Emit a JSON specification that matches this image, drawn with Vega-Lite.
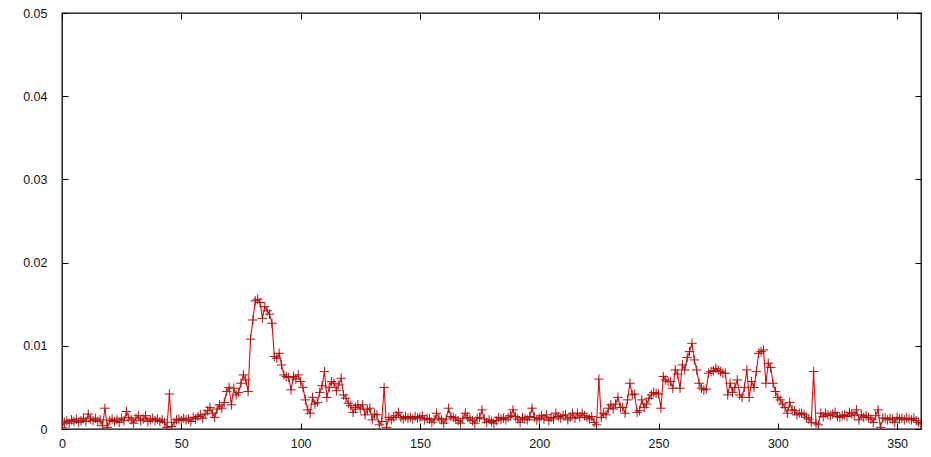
{
  "$schema": "https://vega.github.io/schema/vega-lite/v6.json",
  "width": 859,
  "height": 416,
  "autosize": {"type": "none"},
  "padding": {"left": 62, "top": 13, "right": 10, "bottom": 28},
  "background": "#ffffff",
  "config": {
    "view": {"stroke": "#000000", "strokeWidth": 1.3},
    "axis": {"labelFont": "Liberation Sans", "labelFontSize": 12.5, "labelColor": "#111111", "domain": false, "grid": false, "tickColor": "#000000", "tickSize": -6, "tickWidth": 1}
  },
  "data": {"values": [
{"x":0,"v":0.0002},{"x":1,"v":0.0008},{"x":2,"v":0.0010},{"x":3,"v":0.0007},{"x":4,"v":0.0011},{"x":5,"v":0.0009},{"x":6,"v":0.0012},{"x":7,"v":0.0008},{"x":8,"v":0.0010},{"x":9,"v":0.0013},
{"x":10,"v":0.0009},{"x":11,"v":0.0018},{"x":12,"v":0.0012},{"x":13,"v":0.0010},{"x":14,"v":0.0013},{"x":15,"v":0.0009},{"x":16,"v":0.0011},{"x":17,"v":0.0004},{"x":18,"v":0.0025},{"x":19,"v":0.0002},
{"x":20,"v":0.0010},{"x":21,"v":0.0012},{"x":22,"v":0.0009},{"x":23,"v":0.0011},{"x":24,"v":0.0008},{"x":25,"v":0.0013},{"x":26,"v":0.0010},{"x":27,"v":0.0021},{"x":28,"v":0.0014},{"x":29,"v":0.0011},
{"x":30,"v":0.0007},{"x":31,"v":0.0013},{"x":32,"v":0.0016},{"x":33,"v":0.0010},{"x":34,"v":0.0012},{"x":35,"v":0.0016},{"x":36,"v":0.0009},{"x":37,"v":0.0011},{"x":38,"v":0.0013},{"x":39,"v":0.0010},
{"x":40,"v":0.0012},{"x":41,"v":0.0009},{"x":42,"v":0.0011},{"x":43,"v":0.0008},{"x":44,"v":0.0002},{"x":45,"v":0.0042},{"x":46,"v":0.0003},{"x":47,"v":0.0008},{"x":48,"v":0.0011},{"x":49,"v":0.0012},
{"x":50,"v":0.0010},{"x":51,"v":0.0013},{"x":52,"v":0.0011},{"x":53,"v":0.0012},{"x":54,"v":0.0009},{"x":55,"v":0.0014},{"x":56,"v":0.0012},{"x":57,"v":0.0015},{"x":58,"v":0.0017},{"x":59,"v":0.0013},
{"x":60,"v":0.0018},{"x":61,"v":0.0022},{"x":62,"v":0.0026},{"x":63,"v":0.0019},{"x":64,"v":0.0014},{"x":65,"v":0.0024},{"x":66,"v":0.0029},{"x":67,"v":0.0025},{"x":68,"v":0.0032},{"x":69,"v":0.0045},
{"x":70,"v":0.0050},{"x":71,"v":0.0029},{"x":72,"v":0.0049},{"x":73,"v":0.0041},{"x":74,"v":0.0044},{"x":75,"v":0.0055},{"x":76,"v":0.0065},{"x":77,"v":0.0059},{"x":78,"v":0.0045},{"x":79,"v":0.0108},
{"x":80,"v":0.0131},{"x":81,"v":0.0154},{"x":82,"v":0.0156},{"x":83,"v":0.0152},{"x":84,"v":0.0133},{"x":85,"v":0.0147},{"x":86,"v":0.0142},{"x":87,"v":0.0138},{"x":88,"v":0.0127},{"x":89,"v":0.0087},
{"x":90,"v":0.0085},{"x":91,"v":0.0091},{"x":92,"v":0.0077},{"x":93,"v":0.0065},{"x":94,"v":0.0063},{"x":95,"v":0.0062},{"x":96,"v":0.0047},{"x":97,"v":0.0063},{"x":98,"v":0.0060},{"x":99,"v":0.0065},
{"x":100,"v":0.0057},{"x":101,"v":0.0050},{"x":102,"v":0.0035},{"x":103,"v":0.0023},{"x":104,"v":0.0019},{"x":105,"v":0.0038},{"x":106,"v":0.0030},{"x":107,"v":0.0032},{"x":108,"v":0.0044},{"x":109,"v":0.0052},
{"x":110,"v":0.0069},{"x":111,"v":0.0038},{"x":112,"v":0.0050},{"x":113,"v":0.0057},{"x":114,"v":0.0055},{"x":115,"v":0.0046},{"x":116,"v":0.0053},{"x":117,"v":0.0061},{"x":118,"v":0.0041},{"x":119,"v":0.0037},
{"x":120,"v":0.0031},{"x":121,"v":0.0028},{"x":122,"v":0.0020},{"x":123,"v":0.0026},{"x":124,"v":0.0029},{"x":125,"v":0.0024},{"x":126,"v":0.0029},{"x":127,"v":0.0017},{"x":128,"v":0.0023},{"x":129,"v":0.0025},
{"x":130,"v":0.0011},{"x":131,"v":0.0018},{"x":132,"v":0.0017},{"x":133,"v":0.0005},{"x":134,"v":0.0009},{"x":135,"v":0.0050},{"x":136,"v":0.0002},{"x":137,"v":0.0014},{"x":138,"v":0.0011},{"x":139,"v":0.0014},
{"x":140,"v":0.0016},{"x":141,"v":0.0020},{"x":142,"v":0.0014},{"x":143,"v":0.0012},{"x":144,"v":0.0015},{"x":145,"v":0.0013},{"x":146,"v":0.0014},{"x":147,"v":0.0012},{"x":148,"v":0.0015},{"x":149,"v":0.0013},
{"x":150,"v":0.0014},{"x":151,"v":0.0016},{"x":152,"v":0.0011},{"x":153,"v":0.0013},{"x":154,"v":0.0012},{"x":155,"v":0.0008},{"x":156,"v":0.0011},{"x":157,"v":0.0019},{"x":158,"v":0.0013},{"x":159,"v":0.0011},
{"x":160,"v":0.0007},{"x":161,"v":0.0012},{"x":162,"v":0.0025},{"x":163,"v":0.0015},{"x":164,"v":0.0014},{"x":165,"v":0.0012},{"x":166,"v":0.0010},{"x":167,"v":0.0007},{"x":168,"v":0.0013},{"x":169,"v":0.0019},
{"x":170,"v":0.0014},{"x":171,"v":0.0012},{"x":172,"v":0.0010},{"x":173,"v":0.0007},{"x":174,"v":0.0013},{"x":175,"v":0.0014},{"x":176,"v":0.0023},{"x":177,"v":0.0012},{"x":178,"v":0.0008},{"x":179,"v":0.0011},
{"x":180,"v":0.0009},{"x":181,"v":0.0007},{"x":182,"v":0.0010},{"x":183,"v":0.0014},{"x":184,"v":0.0012},{"x":185,"v":0.0013},{"x":186,"v":0.0011},{"x":187,"v":0.0014},{"x":188,"v":0.0016},{"x":189,"v":0.0023},
{"x":190,"v":0.0015},{"x":191,"v":0.0012},{"x":192,"v":0.0008},{"x":193,"v":0.0014},{"x":194,"v":0.0012},{"x":195,"v":0.0011},{"x":196,"v":0.0015},{"x":197,"v":0.0025},{"x":198,"v":0.0014},{"x":199,"v":0.0011},
{"x":200,"v":0.0013},{"x":201,"v":0.0016},{"x":202,"v":0.0012},{"x":203,"v":0.0017},{"x":204,"v":0.0010},{"x":205,"v":0.0014},{"x":206,"v":0.0012},{"x":207,"v":0.0019},{"x":208,"v":0.0015},{"x":209,"v":0.0013},
{"x":210,"v":0.0016},{"x":211,"v":0.0017},{"x":212,"v":0.0011},{"x":213,"v":0.0014},{"x":214,"v":0.0019},{"x":215,"v":0.0013},{"x":216,"v":0.0019},{"x":217,"v":0.0014},{"x":218,"v":0.0019},{"x":219,"v":0.0016},
{"x":220,"v":0.0014},{"x":221,"v":0.0012},{"x":222,"v":0.0015},{"x":223,"v":0.0008},{"x":224,"v":0.0005},{"x":225,"v":0.0060},{"x":226,"v":0.0014},{"x":227,"v":0.0019},{"x":228,"v":0.0017},{"x":229,"v":0.0025},
{"x":230,"v":0.0029},{"x":231,"v":0.0024},{"x":232,"v":0.0030},{"x":233,"v":0.0038},{"x":234,"v":0.0026},{"x":235,"v":0.0026},{"x":236,"v":0.0019},{"x":237,"v":0.0035},{"x":238,"v":0.0055},{"x":239,"v":0.0041},
{"x":240,"v":0.0042},{"x":241,"v":0.0020},{"x":242,"v":0.0022},{"x":243,"v":0.0035},{"x":244,"v":0.0026},{"x":245,"v":0.0030},{"x":246,"v":0.0037},{"x":247,"v":0.0041},{"x":248,"v":0.0044},{"x":249,"v":0.0043},
{"x":250,"v":0.0042},{"x":251,"v":0.0025},{"x":252,"v":0.0063},{"x":253,"v":0.0059},{"x":254,"v":0.0057},{"x":255,"v":0.0057},{"x":256,"v":0.0049},{"x":257,"v":0.0071},{"x":258,"v":0.0066},{"x":259,"v":0.0049},
{"x":260,"v":0.0077},{"x":261,"v":0.0071},{"x":262,"v":0.0086},{"x":263,"v":0.0093},{"x":264,"v":0.0103},{"x":265,"v":0.0083},{"x":266,"v":0.0071},{"x":267,"v":0.0055},{"x":268,"v":0.0049},{"x":269,"v":0.0047},
{"x":270,"v":0.0048},{"x":271,"v":0.0067},{"x":272,"v":0.0069},{"x":273,"v":0.0070},{"x":274,"v":0.0073},{"x":275,"v":0.0071},{"x":276,"v":0.0069},{"x":277,"v":0.0067},{"x":278,"v":0.0067},{"x":279,"v":0.0041},
{"x":280,"v":0.0055},{"x":281,"v":0.0044},{"x":282,"v":0.0050},{"x":283,"v":0.0059},{"x":284,"v":0.0041},{"x":285,"v":0.0038},{"x":286,"v":0.0050},{"x":287,"v":0.0071},{"x":288,"v":0.0038},{"x":289,"v":0.0057},
{"x":290,"v":0.0050},{"x":291,"v":0.0069},{"x":292,"v":0.0091},{"x":293,"v":0.0093},{"x":294,"v":0.0095},{"x":295,"v":0.0055},{"x":296,"v":0.0079},{"x":297,"v":0.0074},{"x":298,"v":0.0055},{"x":299,"v":0.0045},
{"x":300,"v":0.0038},{"x":301,"v":0.0035},{"x":302,"v":0.0030},{"x":303,"v":0.0026},{"x":304,"v":0.0019},{"x":305,"v":0.0032},{"x":306,"v":0.0023},{"x":307,"v":0.0022},{"x":308,"v":0.0017},{"x":309,"v":0.0019},
{"x":310,"v":0.0019},{"x":311,"v":0.0017},{"x":312,"v":0.0014},{"x":313,"v":0.0012},{"x":314,"v":0.0008},{"x":315,"v":0.0069},{"x":316,"v":0.0007},{"x":317,"v":0.0005},{"x":318,"v":0.0019},{"x":319,"v":0.0015},
{"x":320,"v":0.0019},{"x":321,"v":0.0017},{"x":322,"v":0.0016},{"x":323,"v":0.0018},{"x":324,"v":0.0020},{"x":325,"v":0.0015},{"x":326,"v":0.0014},{"x":327,"v":0.0016},{"x":328,"v":0.0017},{"x":329,"v":0.0015},
{"x":330,"v":0.0020},{"x":331,"v":0.0018},{"x":332,"v":0.0016},{"x":333,"v":0.0023},{"x":334,"v":0.0011},{"x":335,"v":0.0017},{"x":336,"v":0.0014},{"x":337,"v":0.0016},{"x":338,"v":0.0014},{"x":339,"v":0.0012},
{"x":340,"v":0.0008},{"x":341,"v":0.0016},{"x":342,"v":0.0023},{"x":343,"v":0.0002},{"x":344,"v":0.0013},{"x":345,"v":0.0013},{"x":346,"v":0.0011},{"x":347,"v":0.0013},{"x":348,"v":0.0012},{"x":349,"v":0.0008},
{"x":350,"v":0.0014},{"x":351,"v":0.0012},{"x":352,"v":0.0013},{"x":353,"v":0.0011},{"x":354,"v":0.0013},{"x":355,"v":0.0012},{"x":356,"v":0.0011},{"x":357,"v":0.0013},{"x":358,"v":0.0010},{"x":359,"v":0.0008},
{"x":360,"v":0.0006}
  ]},
  "layer": [
    {
      "mark": {"type": "line", "color": "#e01010", "strokeWidth": 1.1, "clip": true},
      "encoding": {
        "x": {"field": "x", "type": "quantitative", "scale": {"domain": [0, 360], "nice": false, "zero": false}, "axis": {"orient": "bottom", "title": null, "values": [0, 50, 100, 150, 200, 250, 300, 350], "labelPadding": 14, "labelFlush": false}},
        "y": {"field": "v", "type": "quantitative", "scale": {"domain": [0, 0.05], "nice": false}, "axis": {"orient": "left", "title": null, "values": [0, 0.01, 0.02, 0.03, 0.04, 0.05], "format": "~g", "labelPadding": 21, "labelFlush": false}}
      }
    },
    {
      "mark": {"type": "point", "shape": "M-1,0L1,0M0,-1L0,1", "filled": false, "size": 90, "color": "#a81414", "strokeWidth": 1, "opacity": 1, "clip": true},
      "encoding": {
        "x": {"field": "x", "type": "quantitative", "axis": {"orient": "top", "title": null, "labels": false, "values": [0, 50, 100, 150, 200, 250, 300, 350]}},
        "y": {"field": "v", "type": "quantitative", "axis": {"orient": "right", "title": null, "labels": false, "values": [0, 0.01, 0.02, 0.03, 0.04, 0.05]}}
      }
    }
  ],
  "resolve": {"axis": {"x": "independent", "y": "independent"}}
}
